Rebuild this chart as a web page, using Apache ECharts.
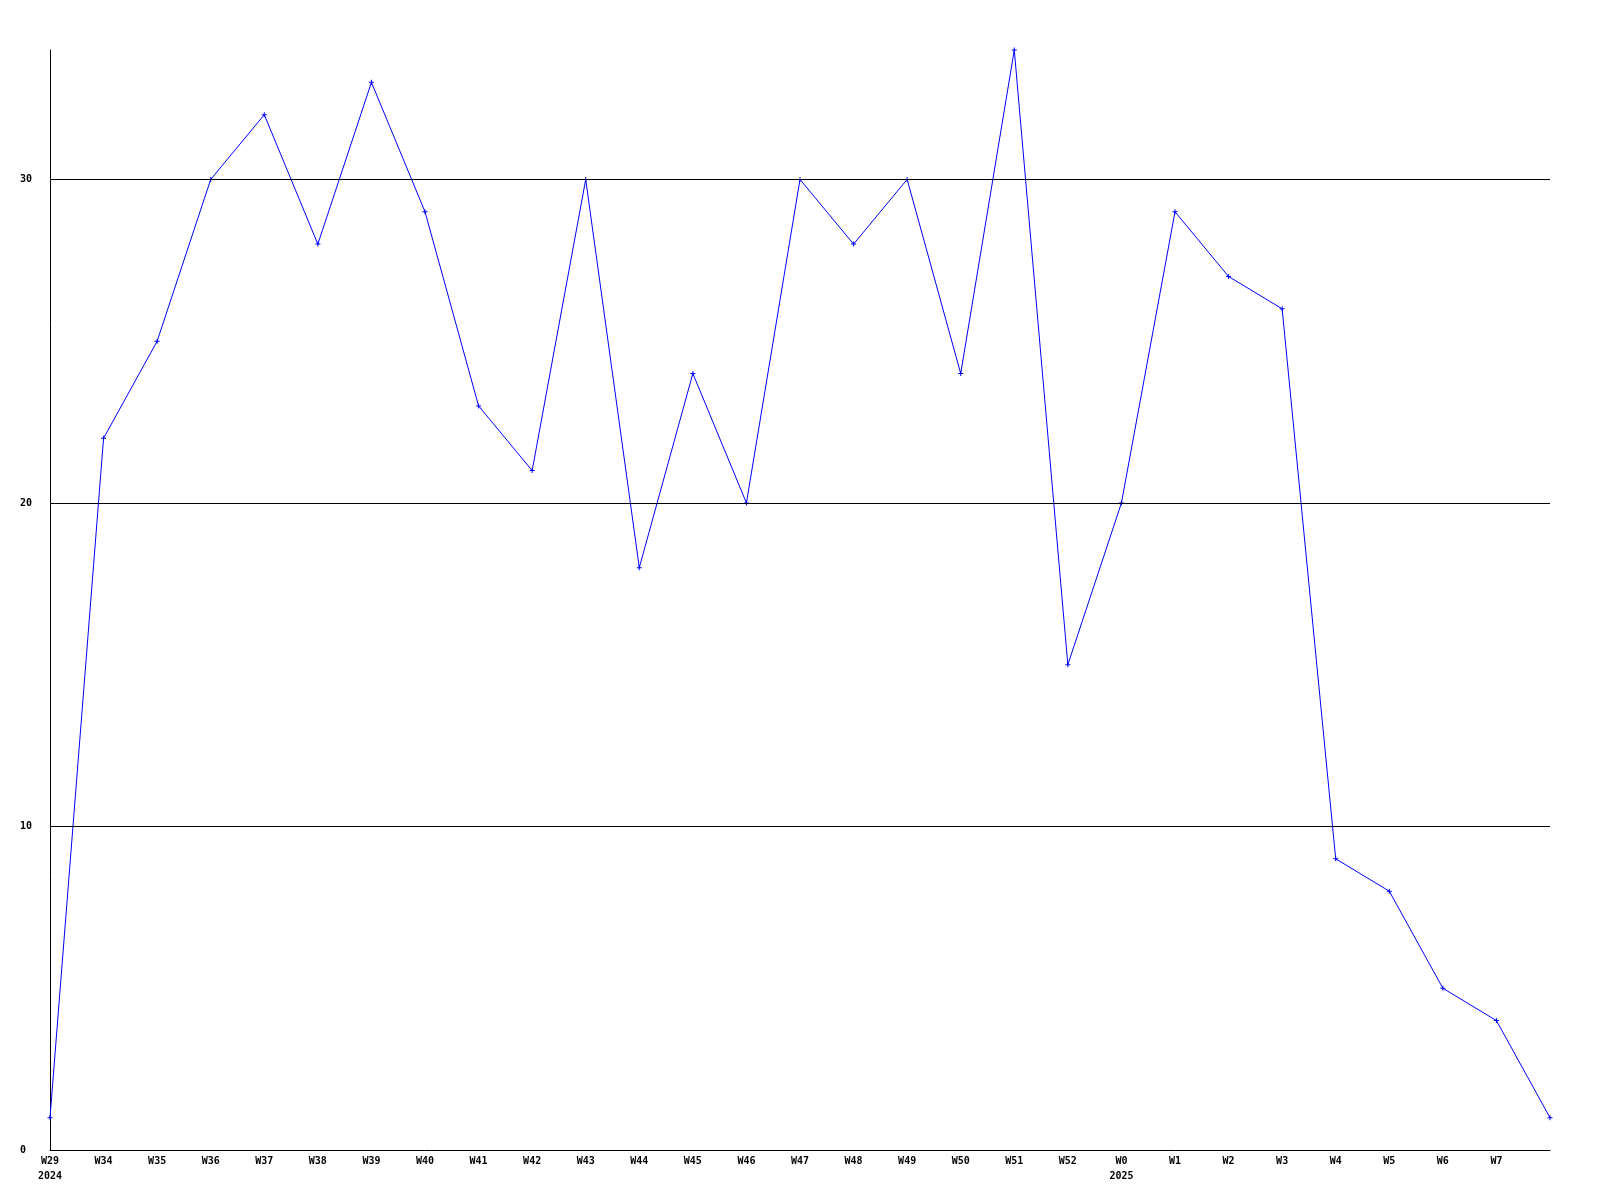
<!DOCTYPE html>
<html>
<head>
<meta charset="utf-8">
<script src="https://cdn.jsdelivr.net/npm/echarts@6/dist/echarts.min.js"></script>
<style>html,body{margin:0;padding:0;background:#fff}#c{width:1600px;height:1200px}</style>
</head>
<body>
<div id="c"></div>
<script>
const categories = ['W29','W34','W35','W36','W37','W38','W39','W40','W41','W42','W43','W44','W45','W46','W47','W48','W49','W50','W51','W52','W0','W1','W2','W3','W4','W5','W6','W7',''];
const yearLabels = {0:'2024', 20:'2025'};
const values = [1,22,25,30,32,28,33,29,23,21,30,18,24,20,30,28,30,24,34,15,20,29,27,26,9,8,5,4,1];
const gridValues = [10,20,30];

const chart = echarts.init(document.getElementById('c'));
const font = '"DejaVu Sans Mono", "Liberation Mono", monospace';
chart.setOption({
  animation: false,
  grid: {left: 50, right: 50, top: 50, bottom: 50},
  xAxis: {
    type: 'category',
    data: categories,
    boundaryGap: false,
    axisLine: {lineStyle: {color: '#000', width: 1}},
    axisTick: {show: false},
    axisLabel: {
      interval: 0,
      margin: 4,
      color: '#000',
      fontFamily: font,
      fontWeight: 'bold',
      fontSize: 10,
      lineHeight: 15,
      formatter: function (v, i) { return yearLabels[i] ? v + '\n' + yearLabels[i] : v; }
    },
    splitLine: {show: false}
  },
  yAxis: {
    type: 'value',
    min: 0,
    max: 34,
    interval: 10,
    axisLine: {show: true, lineStyle: {color: '#000', width: 1}},
    axisTick: {show: false},
    splitLine: {show: false},
    axisLabel: {
      showMaxLabel: false,
      align: 'left',
      margin: 30,
      color: '#000',
      fontFamily: font,
      fontWeight: 'bold',
      fontSize: 10
    }
  },
  series: [{
    type: 'line',
    data: values,
    symbol: 'path://M2,0H3V2H5V3H3V5H2V3H0V2H2Z',
    symbolSize: 5,
    showSymbol: true,
    itemStyle: {color: '#0000ff'},
    lineStyle: {color: '#0000ff', width: 1},
    z: 3,
    markLine: {
      silent: true,
      symbol: ['none','none'],
      label: {show: false},
      lineStyle: {color: '#000', type: 'solid', width: 1},
      data: gridValues.map(v => ({yAxis: v}))
    }
  }]
});
</script>
</body>
</html>
